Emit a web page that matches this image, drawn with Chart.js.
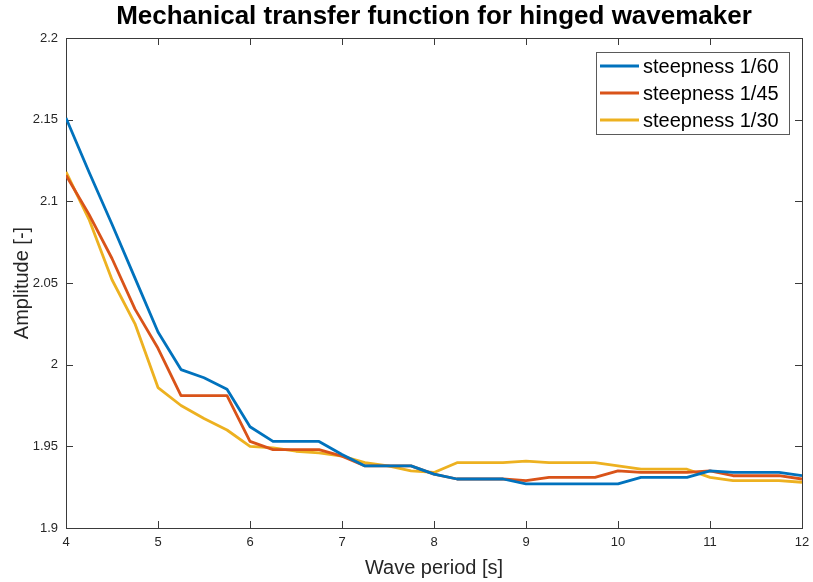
<!DOCTYPE html>
<html>
<head>
<meta charset="utf-8">
<script src="https://cdn.jsdelivr.net/npm/chart.js@4/dist/chart.umd.min.js"></script>
<style>
  html, body { margin: 0; padding: 0; background: #ffffff; }
  #wrap { width: 813px; height: 582px; }
</style>
</head>
<body>
<div id="wrap"><canvas id="c" width="813" height="582"></canvas></div>
<script>
// Wave periods [s]
const periods = [4, 4.25, 4.5, 4.75, 5, 5.25, 5.5, 5.75, 6, 6.25, 6.5, 6.75, 7, 7.25, 7.5, 7.75,
                 8, 8.25, 8.5, 8.75, 9, 9.25, 9.5, 9.75, 10, 10.25, 10.5, 10.75, 11, 11.25, 11.5, 11.75, 12];

// Transfer amplitude per wave steepness
const steep60 = [2.151, 2.118, 2.086, 2.053, 2.020, 1.997, 1.992, 1.985, 1.962, 1.953, 1.953, 1.953, 1.945, 1.938, 1.938, 1.938,
                 1.933, 1.930, 1.930, 1.930, 1.927, 1.927, 1.927, 1.927, 1.927, 1.931, 1.931, 1.931, 1.935, 1.934, 1.934, 1.934, 1.932];
const steep45 = [2.116, 2.092, 2.065, 2.034, 2.010, 1.981, 1.981, 1.981, 1.953, 1.948, 1.948, 1.948, 1.944, 1.938, 1.938, 1.938,
                 1.933, 1.930, 1.930, 1.930, 1.929, 1.931, 1.931, 1.931, 1.935, 1.934, 1.934, 1.934, 1.935, 1.932, 1.932, 1.932, 1.930];
const steep30 = [2.118, 2.089, 2.052, 2.025, 1.986, 1.975, 1.967, 1.960, 1.950, 1.949, 1.947, 1.946, 1.944, 1.940, 1.938, 1.935,
                 1.934, 1.940, 1.940, 1.940, 1.941, 1.940, 1.940, 1.940, 1.938, 1.936, 1.936, 1.936, 1.931, 1.929, 1.929, 1.929, 1.928];

const seriesLabels = ['steepness 1/60', 'steepness 1/45', 'steepness 1/30'];
const xTickValues = [4, 5, 6, 7, 8, 9, 10, 11, 12];
const yTickValues = [1.9, 1.95, 2, 2.05, 2.1, 2.15, 2.2];

const titleText = 'Mechanical transfer function for hinged wavemaker';
const xTitle = 'Wave period [s]';
const yTitle = 'Amplitude [-]';

const FONT = "'Liberation Sans', Arial, Helvetica, sans-serif";
const AXIS_COLOR = '#3a3a3a';
const TEXT_COLOR = '#262626';
const colors = ['#0072BD', '#D95319', '#EDB120'];

function toPoints(ys) { return periods.map((x, i) => ({ x: x, y: ys[i] })); }

// Box around the axes, inward tick marks, title and legend
const axesDecor = {
  id: 'axesDecor',
  beforeDatasetsDraw(chart) {
    const { ctx, chartArea: a, scales: { x, y } } = chart;
    ctx.save();
    ctx.strokeStyle = AXIS_COLOR;
    ctx.lineWidth = 1;
    ctx.strokeRect(Math.round(a.left) + 0.5, Math.round(a.top) + 0.5,
                   Math.round(a.right - a.left), Math.round(a.bottom - a.top));
    const tl = 7;
    ctx.beginPath();
    xTickValues.forEach(v => {
      const px = Math.round(x.getPixelForValue(v)) + 0.5;
      ctx.moveTo(px, a.bottom); ctx.lineTo(px, a.bottom - tl);
      ctx.moveTo(px, a.top); ctx.lineTo(px, a.top + tl);
    });
    yTickValues.forEach(v => {
      const py = Math.round(y.getPixelForValue(v)) + 0.5;
      ctx.moveTo(a.left, py); ctx.lineTo(a.left + tl, py);
      ctx.moveTo(a.right, py); ctx.lineTo(a.right - tl, py);
    });
    ctx.stroke();
    ctx.restore();
  },
  afterDraw(chart) {
    const { ctx, chartArea: a } = chart;
    ctx.save();
    // title
    ctx.fillStyle = '#000000';
    ctx.font = "bold 26px " + FONT;
    ctx.textAlign = 'center';
    ctx.textBaseline = 'middle';
    ctx.fillText(titleText, (a.left + a.right) / 2, 17);

    // legend
    const bx = 596, by = 52, bw = 193, bh = 82;
    ctx.fillStyle = '#ffffff';
    ctx.fillRect(bx, by, bw, bh);
    ctx.strokeStyle = '#5a5a5a';
    ctx.lineWidth = 1;
    ctx.strokeRect(bx + 0.5, by + 0.5, bw, bh);
    ctx.font = "20px " + FONT;
    ctx.textAlign = 'left';
    ctx.textBaseline = 'middle';
    chart.data.datasets.forEach((ds, i) => {
      const yy = 66 + i * 27;
      ctx.strokeStyle = ds.borderColor;
      ctx.lineWidth = 2.8;
      ctx.beginPath();
      ctx.moveTo(600, yy); ctx.lineTo(639, yy);
      ctx.stroke();
      ctx.fillStyle = '#000000';
      ctx.fillText(ds.label, 643, yy + 1);
    });
    ctx.restore();
  }
};

new Chart(document.getElementById('c'), {
  type: 'line',
  data: {
    datasets: [
      { label: seriesLabels[0], data: toPoints(steep60), borderColor: colors[0] },
      { label: seriesLabels[1], data: toPoints(steep45), borderColor: colors[1] },
      { label: seriesLabels[2], data: toPoints(steep30), borderColor: colors[2] }
    ].map(d => Object.assign(d, { borderWidth: 2.8, pointRadius: 0, tension: 0, fill: false, borderJoinStyle: 'round' }))
  },
  options: {
    responsive: false,
    animation: false,
    devicePixelRatio: 1,
    layout: { padding: { top: 38, right: 11, left: 0, bottom: 0 } },
    plugins: { legend: { display: false }, title: { display: false }, tooltip: { enabled: false } },
    scales: {
      x: {
        type: 'linear', min: 4, max: 12,
        afterBuildTicks: s => { s.ticks = xTickValues.map(v => ({ value: v })); },
        afterFit: s => { s.height = 54; s.paddingLeft = 0; s.paddingRight = 0; },
        grid: { display: false, drawTicks: false },
        border: { display: false },
        ticks: { padding: 7, color: TEXT_COLOR, maxRotation: 0, autoSkip: false,
                 font: { family: FONT, size: 13 } },
        title: { display: true, text: xTitle, color: TEXT_COLOR,
                 font: { family: FONT, size: 20 }, padding: { top: 0, bottom: 2 } }
      },
      y: {
        type: 'linear', min: 1.9, max: 2.2,
        afterBuildTicks: s => { s.ticks = yTickValues.map(v => ({ value: v })); },
        afterFit: s => { s.width = 66; s.paddingTop = 0; s.paddingBottom = 0; },
        grid: { display: false, drawTicks: false },
        border: { display: false },
        ticks: { padding: 8, color: TEXT_COLOR, autoSkip: false,
                 font: { family: FONT, size: 13 },
                 callback: v => String(Math.round(v * 100) / 100) },
        title: { display: true, text: yTitle, color: TEXT_COLOR,
                 font: { family: FONT, size: 20 }, padding: { top: 10, bottom: 0 } }
      }
    }
  },
  plugins: [axesDecor]
});
</script>
</body>
</html>
